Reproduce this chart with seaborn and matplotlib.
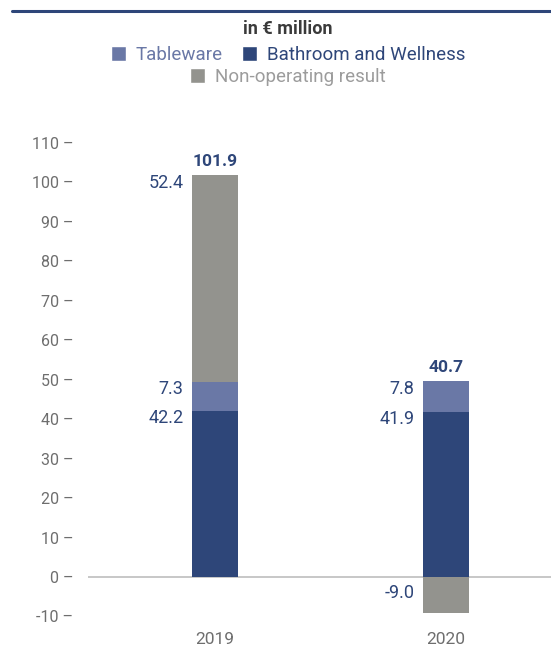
import matplotlib
matplotlib.use("Agg")
import matplotlib.pyplot as plt
from matplotlib.patches import Patch
from matplotlib.lines import Line2D
import numpy as np
import pandas as pd
import seaborn as sns

# Data (EUR million)
years = ["2019", "2020"]
bathroom = [42.2, 41.9]
tableware = [7.3, 7.8]
non_operating = [52.4, -9.0]
totals = [101.9, 40.7]

series_names = ["Tableware", "Bathroom and Wellness", "Non-operating result"]
c_table = "#6a78a6"
c_bath = "#2e4679"
c_nonop = "#93938e"
c_text = "#2e4679"
c_tick = "#6e6e6e"

sns.set_theme(style="white")
plt.rcParams["font.family"] = ["Roboto", "DejaVu Sans"]

bath = np.array(bathroom)
table = np.array(tableware)
nonop = np.array(non_operating)

# Stacked layout: positive parts stack upward, negative parts hang below zero
pos_nonop = np.where(nonop > 0, nonop, 0)
lvl_bath = bath
lvl_table = bath + table
lvl_nonop_top = lvl_table + pos_nonop
neg_nonop = np.where(nonop < 0, nonop, 0)

df = pd.DataFrame({
    "year": years,
    "top": lvl_nonop_top,
    "neg": neg_nonop,
    "table": lvl_table,
    "bath": lvl_bath,
})

fig = plt.figure(figsize=(5.51, 6.47), dpi=100)
ax = fig.add_axes([88 / 551, 1 - 620.4 / 647, 1 - 88 / 551, (620.4 - 131.2) / 647])

w = 0.2
bar_kw = dict(saturation=1, width=w, ax=ax, linewidth=0, edgecolor="none")
ax.axhline(0, color="#bdbdbd", lw=1.2, zorder=0)
sns.barplot(data=df, x="year", y="top", color=c_nonop, zorder=2, **bar_kw)
sns.barplot(data=df, x="year", y="neg", color=c_nonop, zorder=2, **bar_kw)
sns.barplot(data=df, x="year", y="table", color=c_table, zorder=3, **bar_kw)
sns.barplot(data=df, x="year", y="bath", color=c_bath, zorder=4, **bar_kw)

ax.set_xlim(-0.55, 1.455)
ax.set_ylim(-11, 113)
for s in ax.spines.values():
    s.set_visible(False)

yt = list(range(-10, 111, 10))
ax.set_yticks(yt)
ax.set_yticklabels([f"{v} \u2013" for v in yt])
ax.tick_params(axis="y", length=0, pad=10.5, labelsize=11.5, labelcolor=c_tick)
ax.tick_params(axis="x", length=0, pad=8, labelsize=12.5, labelcolor=c_tick)
ax.set_xlabel("")
ax.set_ylabel("")

# Segment value labels, left of each bar
for i in range(len(years)):
    left = i - w / 2
    segs = [(lvl_bath[i], bathroom[i]), (lvl_table[i], tableware[i])]
    if nonop[i] > 0:
        segs.append((lvl_nonop_top[i], non_operating[i]))
    for ytop, val in segs:
        ax.annotate(f"{val:.1f}", xy=(left, ytop), xytext=(-6, 1),
                    textcoords="offset points", ha="right", va="top",
                    fontsize=13, color=c_text)
    if nonop[i] < 0:
        ax.annotate(f"{non_operating[i]:.1f}", xy=(left, nonop[i] / 2), xytext=(-6, 1),
                    textcoords="offset points", ha="right", va="center",
                    fontsize=13, color=c_text)
    top = max(lvl_nonop_top[i], lvl_table[i])
    ax.annotate(f"{totals[i]:.1f}", xy=(i, top), xytext=(0, 4),
                textcoords="offset points", ha="center", va="bottom",
                fontsize=12.5, fontweight="bold", color=c_text)

# Header rule and unit title
fig.add_artist(Line2D([12 / 551, 1], [1 - 10.5 / 647] * 2, color=c_bath, lw=2.2,
                      transform=fig.transFigure))
fig.text(288 / 551, 1 - 29 / 647, "in \u20ac million", ha="center", va="center",
         fontsize=13, fontweight="bold", color="#3a3a3a")

# Legend in two rows
h1 = [Patch(facecolor=c_table), Patch(facecolor=c_bath)]
leg1 = fig.legend(h1, series_names[:2], loc="center", bbox_to_anchor=(288 / 551, 1 - 55 / 647),
                  ncol=2, frameon=False, fontsize=13.5, handlelength=0.8, handleheight=0.8,
                  handletextpad=0.55, columnspacing=1.0, labelcolor=[c_table, c_bath])
h2 = [Patch(facecolor=c_nonop)]
leg2 = fig.legend(h2, series_names[2:], loc="center", bbox_to_anchor=(288 / 551, 1 - 77 / 647),
                  ncol=1, frameon=False, fontsize=13.5, handlelength=0.8, handleheight=0.8,
                  handletextpad=0.55, labelcolor=["#9c9c9c"])

fig.savefig("out.png", dpi=100)
